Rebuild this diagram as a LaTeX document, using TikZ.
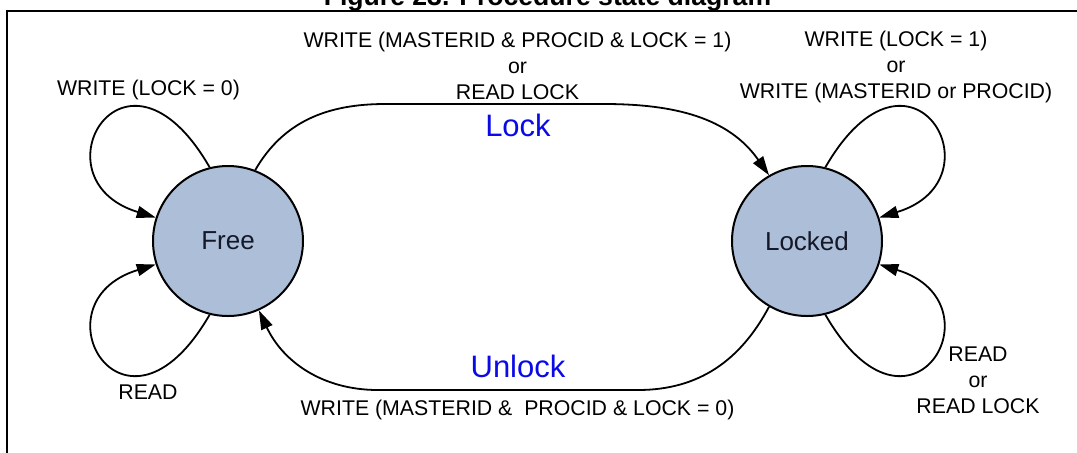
\documentclass[tikz,border=0pt]{standalone}
\usepackage{fontspec}
\setmainfont{Liberation Sans}
\usetikzlibrary{arrows.meta}
\definecolor{statefill}{RGB}{173,191,216}
\definecolor{statetext}{RGB}{20,24,40}
\definecolor{nameblue}{RGB}{10,10,230}

\begin{document}
\begin{tikzpicture}[x=0.5pt, y=0.5pt,
  state/.style={circle, draw, line width=1pt, fill=statefill, text=statetext,
    minimum size=75pt, inner sep=0pt, font=\fontsize{13}{15}\selectfont},
  cond/.style={align=center, inner sep=0pt, font=\fontsize{10.65}{13}\selectfont},
  tname/.style={inner sep=0pt, text=nameblue, font=\fontsize{15.5}{18}\selectfont},
  trans/.style={-{Triangle[length=9.5pt,width=6pt]}, line width=0.9pt}]

  \useasboundingbox (0,0) rectangle (1077,-452);

  \newcommand\XF{228}
  \newcommand\XL{807}
  \newcommand\YS{-241}
  \newcommand\XM{517.5}

  % frame and (cut) title
  \draw[line width=1pt] (7.3,-470) -- (7.3,-10.5) -- (1090,-10.5);
  \node[anchor=base, inner sep=0pt, font=\bfseries\fontsize{13.3}{16}\selectfont]
    (title) at (547.5,-5) {Figure 23. Procedure state diagram};

  \node[state] (free) at (\XF,\YS) {Free};
  \node[state] (locked) at (\XL,\YS) {Locked};

  % Lock
  \coordinate (lockA) at (385,-104);
  \coordinate (lockB) at (604,-104);
  \draw[trans] (free.69) to[out=60,in=180] (lockA) -- (lockB)
    to[out=0,in=125] (locked.120);

  % Unlock
  \coordinate (unlockA) at (638,-390);
  \coordinate (unlockB) at (378,-390);
  \draw[trans] (locked.240) to[out=242,in=0] (unlockA) -- (unlockB)
    to[out=180,in=295] (free.294);

  % self loops
  \draw[trans] (free.104) .. controls +(120:170) and +(163:130) .. (free.162);
  \draw[trans] (free.256) .. controls +(240:170) and +(197:130) .. (free.198);
  \draw[trans] (locked.76) .. controls +(60:170) and +(17:130) .. (locked.18);
  \draw[trans] (locked.284) .. controls +(300:170) and +(343:130) .. (locked.342);

  \node[cond] (wlock0) at (148.5,-90) {WRITE (LOCK = 0)};
  \node[cond] (rd) at (148,-392.4) {READ};
  \node[cond] (lockcond) at (\XM,-66) {WRITE (MASTERID \& PROCID \& LOCK = 1)\\or\\READ LOCK};
  \node[cond] (wlock1) at (896,-67) {WRITE (LOCK = 1)\\or\\WRITE (MASTERID or PROCID)};
  \node[cond] (rdlock) at (978,-380.5) {READ\\or\\READ LOCK};
  \node[cond] (unlockcond) at (\XM,-409.5) {WRITE (MASTERID \&\ \ PROCID \& LOCK = 0)};

  \node[tname] (lockname) at (518,-125) {Lock};
  \node[tname] (unlockname) at (518,-366.7) {Unlock};

\end{tikzpicture}
\end{document}
